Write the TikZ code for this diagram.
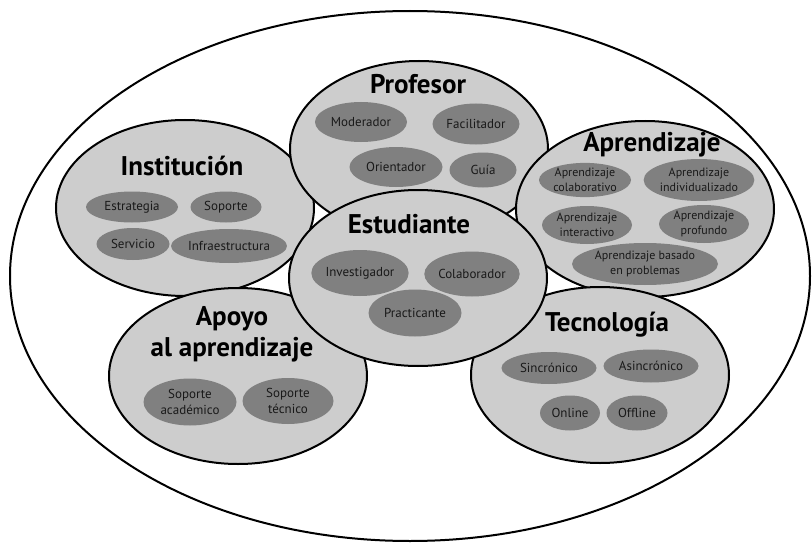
\documentclass[tikz,border=0pt]{standalone}
\usepackage{fontspec}
\setmainfont{PT Sans}
\usepackage{tikz}
\usetikzlibrary{shapes.geometric}
\usepackage{xcolor}
\definecolor{ringgray}{RGB}{205,205,205}
\definecolor{chipgray}{RGB}{128,128,128}
\definecolor{labelblack}{RGB}{25,25,25}
\tikzstyle{area} = [ellipse, draw=black, line width=2pt, fill=ringgray, minimum width=258pt, minimum height=176pt, inner sep=0pt]
\tikzstyle{areatitle} = [font=\fontsize{27}{31}\selectfont\bfseries, anchor=base, align=center, inner sep=0pt]
\tikzstyle{role} = [ellipse, fill=chipgray, inner sep=0pt, align=center, text=labelblack, font=\fontsize{13}{15.5}\selectfont]
\tikzstyle{smallrole} = [role, font=\fontsize{12}{15.5}\selectfont]

\begin{document}
\begin{tikzpicture}[x=1pt, y=-1pt]
\useasboundingbox (0,0) rectangle (812,543);
\node (whole) [ellipse, draw=black, line width=2pt, minimum width=800pt, minimum height=530pt, inner sep=0pt] at (410,276) {};

% Institucion
\node (inst) [area] at (185,208) {};
\node (instT) [areatitle] at (182,175) {Institución};
\node (estrategia) [role, minimum width=92pt, minimum height=31pt] at (132,207) {Estrategia};
\node (soporte) [role, minimum width=71pt, minimum height=31pt] at (226,207) {Soporte};
\node (servicio) [role, minimum width=73pt, minimum height=32pt] at (133,244) {Servicio};
\node (infra) [role, minimum width=96pt, minimum height=34pt] at (229,246) {Infraestructura};

% Profesor
\node (prof) [area] at (419,149) {};
\node (profT) [areatitle] at (418,93) {Profesor};
\node (moderador) [role, minimum width=92pt, minimum height=40pt] at (361,122) {Moderador};
\node (facilitador) [role, minimum width=87pt, minimum height=41pt] at (476,124) {Facilitador};
\node (orientador) [role, minimum width=93pt, minimum height=40pt] at (396,167) {Orientador};
\node (guia) [role, minimum width=67pt, minimum height=35pt] at (483,170) {Guía};

% Aprendizaje
\node (apren) [area] at (645,209) {};
\node (aprenT) [areatitle] at (652,151) {Aprendizaje};
\node (colab) [smallrole, minimum width=92pt, minimum height=32pt] at (585,180) {Aprendizaje\\colaborativo};
\node (indiv) [smallrole, minimum width=100pt, minimum height=42pt] at (699,180) {Aprendizaje\\individualizado};
\node (inter) [smallrole, minimum width=90pt, minimum height=38pt] at (587,225) {Aprendizaje\\interactivo};
\node (prof2) [smallrole, minimum width=90pt, minimum height=38pt] at (704,224) {Aprendizaje\\profundo};
\node (problemas) [smallrole, minimum width=146pt, minimum height=42pt] at (645,264) {Aprendizaje basado\\en problemas};

% Tecnologia
\node (tec) [area] at (600,375) {};
\node (tecT) [areatitle] at (607,331) {Tecnología};
\node (sincro) [role, minimum width=95pt, minimum height=32pt] at (549,368) {Sincrónico};
\node (asincro) [role, minimum width=95pt, minimum height=33pt] at (651,366) {Asincrónico};
\node (online) [role, minimum width=60pt, minimum height=35pt] at (570,413) {Online};
\node (offline) [role, minimum width=61pt, minimum height=35pt] at (637,413) {Offline};

% Apoyo al aprendizaje
\node (apoyo) [area] at (238,376) {};
\node (apoyoT) [areatitle] at (232,356) {Apoyo\\al aprendizaje};
\node (acad) [role, minimum width=93pt, minimum height=47pt] at (190,402) {Soporte\\académico};
\node (tecnico) [role, minimum width=91pt, minimum height=46pt] at (288,401) {Soporte\\técnico};

% Estudiante
\node (est) [area] at (418,278) {};
\node (estT) [areatitle] at (409,233) {Estudiante};
\node (investigador) [role, minimum width=93pt, minimum height=46pt] at (360,273) {Investigador};
\node (colaborador) [role, minimum width=92pt, minimum height=45pt] at (472,274) {Colaborador};
\node (practicante) [role, minimum width=93pt, minimum height=47pt] at (415,313) {Practicante};
\end{tikzpicture}
\end{document}
